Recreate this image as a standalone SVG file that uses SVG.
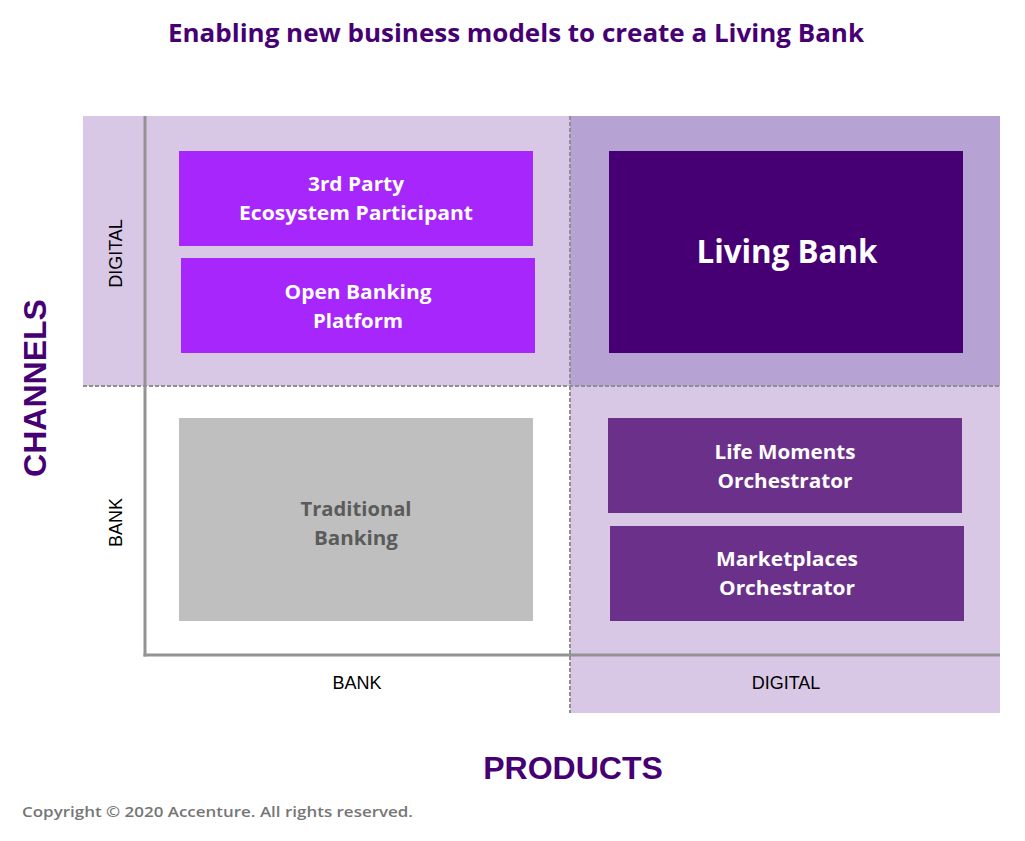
<svg xmlns="http://www.w3.org/2000/svg" width="1025" height="841" viewBox="0 0 1025 841">
<style>
.bgl{fill:#D8C8E6}
.bgd{fill:#B7A3D3}
.axis{stroke:#939393;stroke-width:3;fill:none}
.dash{stroke:#8F8F8F;stroke-width:2;stroke-dasharray:4 2;fill:none}
.nt{font-family:"Open Sans",Roboto,"Liberation Sans",sans-serif;font-weight:700;font-size:20px;fill:#FFFFFF;text-anchor:middle}
.lab{font-family:"Liberation Sans",Arial,sans-serif;font-size:18px;fill:#000;text-anchor:middle}
.big{font-family:"Liberation Sans",Arial,sans-serif;font-weight:700;font-size:32px;fill:#460073;text-anchor:middle}
</style>
<rect width="1025" height="841" fill="#FFFFFF"/>
<g id="background">
<rect class="bgl" x="83" y="116" width="487" height="270"/>
<rect class="bgd" x="570" y="116" width="430" height="270"/>
<rect class="bgl" x="570" y="386" width="430" height="327"/>
</g>
<g id="grid">
<line class="dash" x1="83" y1="386" x2="1000" y2="386"/>
<line class="dash" x1="570" y1="116" x2="570" y2="713"/>
<line class="axis" x1="145" y1="116" x2="145" y2="656.5"/>
<line class="axis" x1="143.5" y1="655" x2="1000" y2="655"/>
</g>
<text x="168" y="42" font-family="'Open Sans',Roboto,'Liberation Sans',sans-serif" font-weight="700" font-size="25" fill="#460073" textLength="696" lengthAdjust="spacingAndGlyphs">Enabling new business models to create a Living Bank</text>
<g id="node-3rd-party">
<rect x="179" y="151" width="354" height="95" fill="#A626FB"/>
<text class="nt" x="356" y="191" textLength="96" lengthAdjust="spacingAndGlyphs">3rd Party</text>
<text class="nt" x="356" y="220" textLength="234" lengthAdjust="spacingAndGlyphs">Ecosystem Participant</text>
</g>
<g id="node-open-banking">
<rect x="181" y="258" width="354" height="95" fill="#A626FB"/>
<text class="nt" x="358" y="299" textLength="147" lengthAdjust="spacingAndGlyphs">Open Banking</text>
<text class="nt" x="358" y="328" textLength="90" lengthAdjust="spacingAndGlyphs">Platform</text>
</g>
<g id="node-living-bank">
<rect x="609" y="151" width="354" height="202" fill="#460073"/>
<text class="nt" x="787" y="263" style="font-size:32px" textLength="181" lengthAdjust="spacingAndGlyphs">Living Bank</text>
</g>
<g id="node-traditional">
<rect x="179" y="418" width="354" height="203" fill="#BFBFBF"/>
<text class="nt" x="356" y="516" style="fill:#5B5B5B" textLength="111" lengthAdjust="spacingAndGlyphs">Traditional</text>
<text class="nt" x="356" y="545" style="fill:#5B5B5B" textLength="84" lengthAdjust="spacingAndGlyphs">Banking</text>
</g>
<g id="node-life-moments">
<rect x="608" y="418" width="354" height="95" fill="#6B318A"/>
<text class="nt" x="785" y="459" textLength="141" lengthAdjust="spacingAndGlyphs">Life Moments</text>
<text class="nt" x="785" y="488" textLength="135" lengthAdjust="spacingAndGlyphs">Orchestrator</text>
</g>
<g id="node-marketplaces">
<rect x="610" y="526" width="354" height="95" fill="#6B318A"/>
<text class="nt" x="787" y="566" textLength="142" lengthAdjust="spacingAndGlyphs">Marketplaces</text>
<text class="nt" x="787" y="595" textLength="136" lengthAdjust="spacingAndGlyphs">Orchestrator</text>
</g>
<g id="axis-labels">
<text class="lab" transform="translate(121.5,253.5) rotate(-90)">DIGITAL</text>
<text class="lab" transform="translate(121.5,522.5) rotate(-90)">BANK</text>
<text class="lab" x="357" y="689">BANK</text>
<text class="lab" x="786" y="689">DIGITAL</text>
<text class="big" transform="translate(46,388) rotate(-90)">CHANNELS</text>
<text class="big" x="573" y="779">PRODUCTS</text>
</g>
<text x="22" y="817" font-family="'Open Sans',Roboto,'Liberation Sans',sans-serif" font-weight="600" font-size="15" fill="#767676" textLength="391" lengthAdjust="spacingAndGlyphs">Copyright © 2020 Accenture. All rights reserved.</text>
</svg>
